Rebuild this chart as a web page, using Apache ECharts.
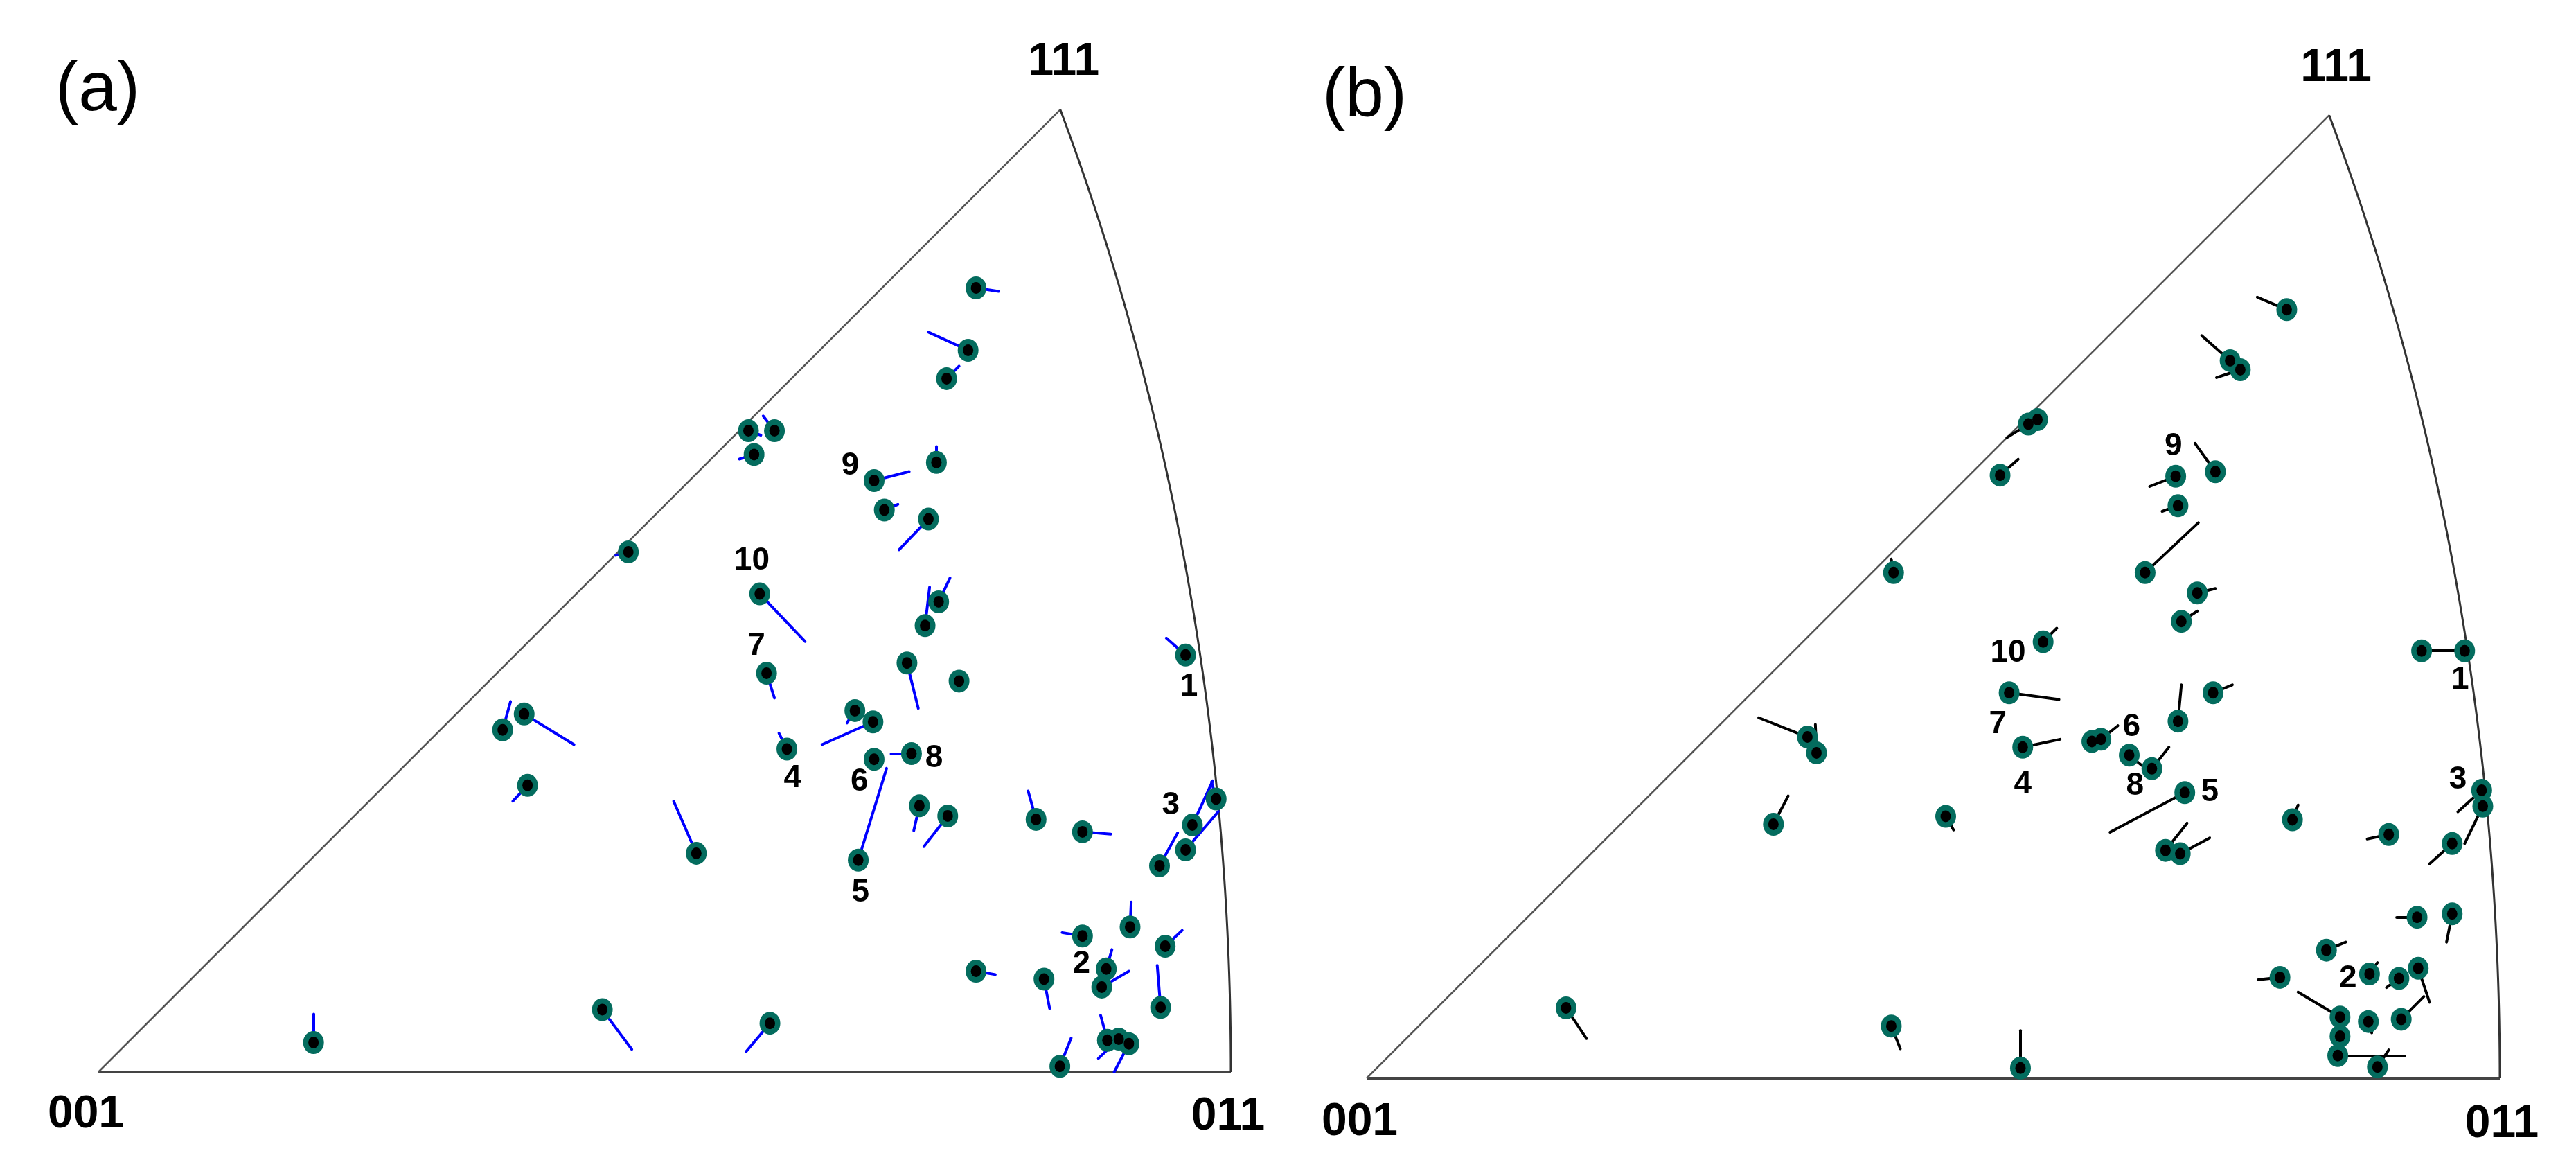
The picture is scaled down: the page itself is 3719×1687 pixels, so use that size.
<!DOCTYPE html>
<html>
<head>
<meta charset="utf-8">
<title>IPF</title>
<script src="https://cdn.jsdelivr.net/npm/echarts@6/dist/echarts.min.js"></script>
<style>
html, body { margin: 0; padding: 0; background: #fff; }
#chart { width: 3719px; height: 1687px; }
</style>
</head>
<body>
<div id="chart"></div>
<script>
// positions inside the 001-011-111 triangle (equal-area), 001-011 edge = 1
// (a) grain positions, and the other end of each grain's trail (null = none)
var pointsA = [
    [0.775,0.692],[0.768,0.637],[0.749,0.612],[0.574,0.566],[0.597,0.566],[0.579,0.545],[0.740,0.538],
    [0.685,0.522],[0.694,0.496],[0.733,0.488],[0.584,0.422],[0.742,0.415],[0.730,0.394],[0.590,0.352],
    [0.714,0.361],[0.760,0.345],[0.960,0.368],[0.668,0.319],[0.684,0.309],[0.608,0.285],[0.718,0.281],
    [0.685,0.276],[0.671,0.187],[0.528,0.193],[0.725,0.235],[0.750,0.226],[0.828,0.223],[0.869,0.212],
    [0.987,0.241],[0.966,0.218],[0.960,0.196],[0.937,0.182],[0.911,0.128],[0.869,0.120],[0.942,0.111],
    [0.890,0.091],[0.886,0.075],[0.775,0.089],[0.835,0.082],[0.938,0.057],[0.593,0.043],[0.891,0.028],
    [0.901,0.029],[0.910,0.025],[0.849,0.005],[0.468,0.459],[0.376,0.316],[0.357,0.302],[0.379,0.253],
    [0.190,0.026],[0.445,0.055]
];
var tailsA = [
    [0.795,0.689],[0.733,0.653],[0.760,0.623],[0.585,0.562],[0.587,0.579],[0.566,0.541],[0.740,0.552],
    [0.716,0.530],[0.706,0.501],[0.707,0.461],[0.624,0.380],[0.752,0.436],[0.734,0.428],[0.597,0.330],
    [0.724,0.321],null,[0.943,0.383],[0.661,0.308],[0.639,0.289],[0.601,0.299],[0.700,0.281],
    null,[0.696,0.268],[0.508,0.239],[0.720,0.213],[0.729,0.199],[0.821,0.248],[0.894,0.210],
    [0.983,0.256],[0.984,0.257],[0.989,0.230],[0.953,0.211],[0.912,0.150],[0.851,0.123],[0.957,0.125],
    [0.895,0.108],[0.910,0.089],[0.792,0.086],[0.840,0.056],[0.935,0.094],[0.572,0.018],[0.885,0.050],
    [0.883,0.012],[0.897,0.000],[0.859,0.030],[0.457,0.456],[0.420,0.289],[0.364,0.327],[0.366,0.239],
    [0.190,0.051],[0.471,0.020]
];
var labelsA = [
    ['1',0.963,0.340],['2',0.868,0.095],['3',0.947,0.235],['4',0.613,0.259],['5',0.673,0.158],
    ['6',0.672,0.256],['7',0.581,0.376],['8',0.738,0.277],['9',0.664,0.535],['10',0.577,0.451]
];

// (b)
var pointsB = [
    [0.812,0.678],[0.762,0.633],[0.771,0.625],[0.592,0.581],[0.584,0.577],[0.559,0.532],[0.749,0.535],
    [0.714,0.531],[0.716,0.505],[0.687,0.446],[0.733,0.428],[0.719,0.403],[0.597,0.385],[0.969,0.377],
    [0.931,0.377],[0.567,0.340],[0.747,0.340],[0.716,0.315],[0.579,0.292],[0.640,0.297],[0.648,0.299],
    [0.673,0.285],[0.693,0.273],[0.722,0.252],[0.511,0.231],[0.817,0.228],[0.705,0.201],[0.718,0.198],
    [0.902,0.215],[0.984,0.254],[0.985,0.240],[0.958,0.207],[0.927,0.142],[0.958,0.145],[0.847,0.113],
    [0.806,0.089],[0.885,0.092],[0.911,0.088],[0.928,0.097],[0.913,0.052],[0.859,0.054],[0.884,0.050],
    [0.859,0.037],[0.857,0.020],[0.892,0.010],[0.577,0.009],[0.465,0.446],[0.389,0.301],[0.397,0.287],
    [0.359,0.224],[0.176,0.062],[0.463,0.046]
];
var tailsB = [
    [0.786,0.689],[0.737,0.655],[0.750,0.618],null,[0.565,0.565],[0.575,0.546],[0.731,0.560],
    [0.691,0.522],[0.702,0.500],[0.734,0.490],[0.749,0.432],[0.733,0.412],[0.609,0.397],[0.931,0.377],
    null,[0.611,0.334],[0.764,0.347],[0.719,0.347],[0.612,0.299],null,[0.663,0.311],
    [0.684,0.276],[0.708,0.292],[0.656,0.217],[0.518,0.219],[0.822,0.241],[0.724,0.225],[0.744,0.212],
    [0.883,0.211],[0.963,0.235],[0.969,0.207],[0.938,0.189],[0.909,0.142],[0.953,0.120],[0.864,0.120],
    [0.787,0.087],[0.892,0.102],[0.900,0.080],[0.938,0.067],[0.933,0.072],[0.822,0.076],[0.887,0.040],
    null,[0.916,0.020],[0.902,0.025],[0.577,0.042],[0.463,0.458],[0.346,0.318],[0.396,0.312],
    [0.372,0.249],[0.194,0.035],[0.471,0.026]
];
var labelsB = [
    ['1',0.965,0.351],['2',0.866,0.088],['3',0.963,0.263],['4',0.579,0.259],['5',0.744,0.252],
    ['6',0.675,0.310],['7',0.557,0.312],['8',0.678,0.258],['9',0.712,0.557],['10',0.566,0.375]
];

var teal = '#046c5e';
var numFont = "'Liberation Sans', Arial, sans-serif";
var poleFont = "'Liberation Sans Narrow', 'Arial Narrow', 'Liberation Sans', Arial, sans-serif";

/**
 * equal-area projection of direction (a,b,c), scaled so that 011 -> (1,0)
 */
var R011 = 2 * Math.sin(Math.PI / 8);
function project(a, b, c) {
    var n = Math.sqrt(a * a + b * b + c * c);
    a /= n; b /= n; c /= n;
    var r = Math.sqrt(2 * (1 - c));
    var h = Math.sqrt(a * a + b * b);
    if (h === 0) return [0, 0];
    return [r * b / h / R011, r * a / h / R011];
}

// 011 -> 111 great circle
var arc = [];
for (var i = 0; i <= 80; i++) {
    arc.push(project(i / 80, 1, 1));
}
var p111 = project(1, 1, 1);

function panelSeries(idx, points, tails, labels, tailColor, poleOffsets) {
    var list = [];
    var base = { xAxisIndex: idx, yAxisIndex: idx, silent: true, animation: false };

    function add(o) {
        list.push(Object.assign({}, base, o));
    }

    // frame
    add({ type: 'line', data: [[0, 0], [1, 0]], showSymbol: false, z: 1,
          lineStyle: { color: '#444', width: 4 } });
    add({ type: 'line', data: [[0, 0], p111], showSymbol: false, z: 1,
          lineStyle: { color: '#555', width: 2.5 } });
    add({ type: 'line', data: arc, showSymbol: false, z: 1,
          lineStyle: { color: '#333', width: 3 } });

    // trails
    var segs = [];
    tails.forEach(function(t, k) {
        if (t) segs.push({ coords: [points[k], t] });
    });
    add({ type: 'lines', coordinateSystem: 'cartesian2d', data: segs, z: 2,
          lineStyle: { color: tailColor, width: 4, opacity: 1, cap: 'round' } });

    // grains
    add({ type: 'scatter', data: points, symbol: 'circle', symbolSize: [30, 33], z: 3,
          itemStyle: { color: teal, opacity: 1 } });
    add({ type: 'scatter', data: points, symbol: 'circle', symbolSize: [15, 17], z: 4,
          itemStyle: { color: '#000', opacity: 1 } });

    var txt = { show: true, position: 'inside', formatter: '{b}', color: '#000',
                fontWeight: 'bold', textBorderWidth: 0, opacity: 1 };

    // grain numbers
    add({ type: 'scatter', z: 5, symbolSize: 1, itemStyle: { color: 'rgba(0,0,0,0)' },
          data: labels.map(function(l) { return { name: l[0], value: [l[1], l[2]] }; }),
          label: Object.assign({ fontSize: 46, fontFamily: numFont }, txt) });

    // poles
    add({ type: 'scatter', z: 5, symbolSize: 1, itemStyle: { color: 'rgba(0,0,0,0)' },
          data: [
              { name: '001', value: [0, 0], label: { offset: poleOffsets[0] } },
              { name: '011', value: [1, 0], label: { offset: poleOffsets[1] } },
              { name: '111', value: p111, label: { offset: poleOffsets[2] } }
          ],
          label: Object.assign({ fontSize: 66, fontFamily: poleFont }, txt) });
    return list;
}

var chart = echarts.init(document.getElementById('chart'), null, { renderer: 'canvas' });

var axisX = { type: 'value', min: 0, max: 1, show: false };
var axisY = { type: 'value', min: 0, max: 0.9, show: false };

var option = {
    backgroundColor: '#fff',
    animation: false,
    grid: [
        { left: 142, width: 1635, bottom: 140, height: 1471.5 },
        { left: 1973, width: 1636, bottom: 131, height: 1472.4 }
    ],
    xAxis: [Object.assign({ gridIndex: 0 }, axisX), Object.assign({ gridIndex: 1 }, axisX)],
    yAxis: [Object.assign({ gridIndex: 0 }, axisY), Object.assign({ gridIndex: 1 }, axisY)],
    graphic: [
        { type: 'text', x: 141, y: 131, style: { text: '(a)', fill: '#000',
          font: "100px 'Liberation Sans', Arial, sans-serif", align: 'center', verticalAlign: 'middle' } },
        { type: 'text', x: 1970, y: 140, style: { text: '(b)', fill: '#000',
          font: "100px 'Liberation Sans', Arial, sans-serif", align: 'center', verticalAlign: 'middle' } }
    ],
    series: [].concat(
        panelSeries(0, pointsA, tailsA, labelsA, '#0000ff', [[-18, 62], [-4, 65], [5, -68]]),
        panelSeries(1, pointsB, tailsB, labelsB, '#000000', [[-10, 64], [3, 67], [10, -68]])
    )
};

chart.setOption(option);
</script>
</body>
</html>
